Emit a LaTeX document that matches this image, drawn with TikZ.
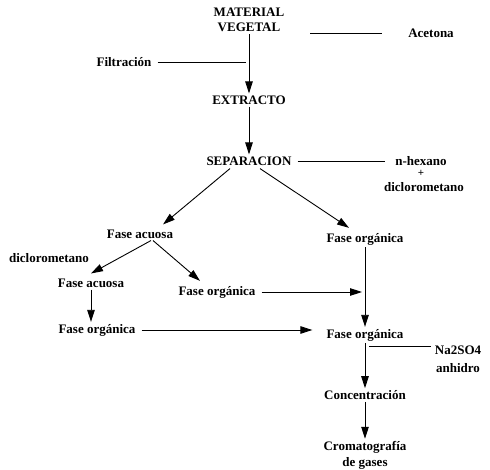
\documentclass[tikz,border=0pt]{standalone}
\usepackage{fontspec}
\setmainfont{Liberation Serif}
\usepackage{tikz}
\usetikzlibrary{positioning,arrows.meta,calc}

\begin{document}
\begin{tikzpicture}[
  x=1pt, y=-1pt,
  every node/.style={font=\fontsize{13}{15}\selectfont\bfseries, inner sep=2pt, align=center},
  flow/.style={-{Triangle[length=12pt,width=7.5pt]}, line width=0.9pt},
  feed/.style={line width=0.7pt}
]
  \useasboundingbox (0,0) rectangle (490,470);

  \node (mat) at (249,20) {MATERIAL\\VEGETAL};
  \node (acet) at (431,33) {Acetona};
  \node (filt) at (124,62) {Filtración};
  \node (ext) at (249,100) {EXTRACTO};
  \node (sep) at (249,161) {SEPARACION};
  \node (hex) at (421,161) {n-hexano};
  \node[inner sep=0pt, font=\fontsize{11}{11}\selectfont\bfseries] (plus) at (421,173) {+};
  \node (dcm2) at (424,187) {diclorometano};

  \node (aq1) at (140,234) {Fase acuosa};
  \node (org1) at (365,239) {Fase orgánica};
  \node (dcm) at (49,258) {diclorometano};
  \node (aq2) at (91,283) {Fase acuosa};
  \node (org2) at (217,292) {Fase orgánica};
  \node (org3) at (97,330) {Fase orgánica};
  \node (org4) at (365,335) {Fase orgánica};
  \node (na) at (458,359) {Na2SO4\\[3pt]anhidro};
  \node (conc) at (365,395) {Concentración};
  \node (crom) at (365,455) {Cromatografía\\[1pt]de gases};

  % lineas de entrada
  \draw[feed] ([xshift=24pt]mat.east |- acet) -- ([xshift=-24pt]acet.west);
  \draw[feed] ([xshift=4pt]filt.east) -- ([xshift=-3pt]filt -| mat.south);
  \draw[feed] ([xshift=4pt]sep.east) -- ([xshift=-8pt]hex.west);
  \draw[feed] ([xshift=4pt]org4.south |- na.north) ++(0,3) coordinate (nastart) -- ([xshift=-2pt]nastart -| na.west);

  % flujo principal
  \draw[flow] (mat.south) -- (ext.north);
  \draw[flow] (ext.south) -- (sep.north);
  \draw[flow] ([xshift=-19pt,yshift=-1pt]sep.south) -- ([xshift=23pt,yshift=3pt]aq1.north);
  \draw[flow] ([xshift=11pt,yshift=-1pt]sep.south) -- ([xshift=-16pt,yshift=3pt]org1.north);
  \draw[flow] ([xshift=11pt]aq1.south) -- ([xshift=0pt,yshift=3pt]aq2.north);
  \draw[flow] ([xshift=13pt]aq1.south) -- ([xshift=-17pt,yshift=3pt]org2.north);
  \draw[flow] (aq2.south) -- (org3.north -| aq2.south);
  \draw[flow] (org1.south) -- (org4.north);
  \draw[flow] ([xshift=4pt]org2.east) -- ([xshift=-3pt]org2.east -| org1.south);
  \draw[flow] ([xshift=4pt]org3.east) -- ([xshift=-12pt]org3.east -| org4.west);
  \draw[flow] (org4.south) -- (conc.north);
  \draw[flow] (conc.south) -- (crom.north);
\end{tikzpicture}
\end{document}
